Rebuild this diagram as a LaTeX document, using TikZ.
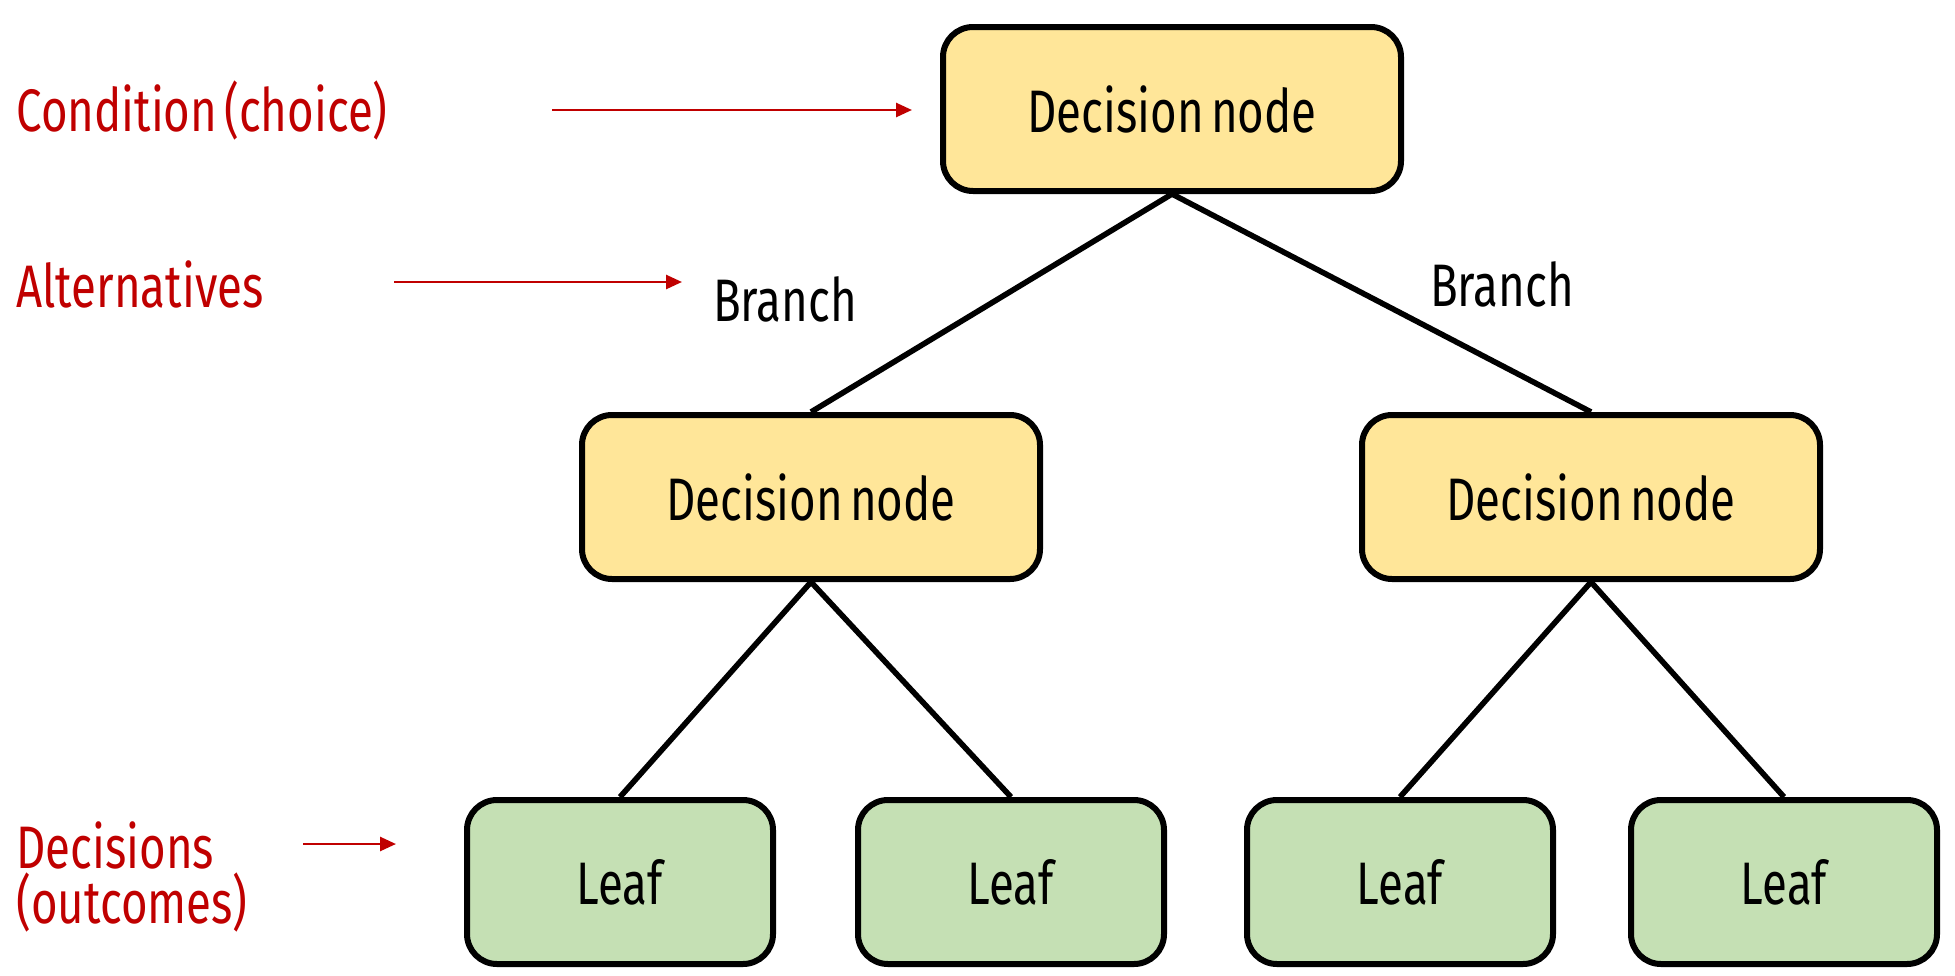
\documentclass[tikz,border=0pt]{standalone}
\usepackage{fontspec}
\setmainfont{Fira Sans}[FakeStretch=0.76,WordSpace=0.6]
\usetikzlibrary{arrows.meta}
\definecolor{nodeyellow}{HTML}{FFE699}
\definecolor{leafgreen}{HTML}{C5E0B4}
\definecolor{labelred}{HTML}{C00000}
\tikzset{
  decbox/.style={draw=black, line width=3pt, rounded corners=15pt, fill=nodeyellow,
    minimum width=229pt, minimum height=82pt, font=\fontsize{30}{36}\selectfont},
  leafbox/.style={draw=black, line width=3pt, rounded corners=15pt, fill=leafgreen,
    minimum width=153pt, minimum height=82pt, font=\fontsize{30}{36}\selectfont},
  edge/.style={draw=black, line width=2.8pt},
  redlabel/.style={text=labelred, anchor=west, inner sep=0pt, align=left,
    font=\fontsize{30}{36}\selectfont},
  redarrow/.style={draw=labelred, line width=1.3pt, -{Triangle[length=8pt,width=7pt]}},
  branchlabel/.style={text=black, inner sep=0pt, font=\fontsize{30}{36}\selectfont}
}
\begin{document}
\begin{tikzpicture}[x=0.5pt,y=-0.5pt]
\useasboundingbox (0,0) rectangle (1955,975);
\node[decbox] (top) at (1172,109) {Decision node};
\node[decbox] (ml) at (811,497) {Decision node};
\node[decbox] (mr) at (1591,497) {Decision node};
\node[leafbox] (l1) at (620,882) {Leaf};
\node[leafbox] (l2) at (1011,882) {Leaf};
\node[leafbox] (l3) at (1400,882) {Leaf};
\node[leafbox] (l4) at (1784,882) {Leaf};
\draw[edge] (top.south) -- (ml.north);
\draw[edge] (top.south) -- (mr.north);
\draw[edge] (ml.south) -- (l1.north);
\draw[edge] (ml.south) -- (l2.north);
\draw[edge] (mr.south) -- (l3.north);
\draw[edge] (mr.south) -- (l4.north);
% branch labels
\node[branchlabel] (b1) at (785,299) {Branch};
\node[branchlabel] (b2) at (1502,284) {Branch};
% red labels
\node[redlabel] (cond) at (16,110) {Condition (choice)};
\node[redlabel] (alt) at (16,284) {Alternatives};
\node[redlabel] (dec) at (16,877) {Decisions\\[-8.5pt](outcomes)};
% red arrows
\coordinate (c1s) at (552,110);
\coordinate (c1e) at (912,110);
\coordinate (c2s) at (394,282);
\coordinate (c2e) at (682,282);
\coordinate (c3s) at (303,844);
\coordinate (c3e) at (396,844);
\draw[redarrow] (c1s) -- (c1e);
\draw[redarrow] (c2s) -- (c2e);
\draw[redarrow] (c3s) -- (c3e);
\end{tikzpicture}
\end{document}
